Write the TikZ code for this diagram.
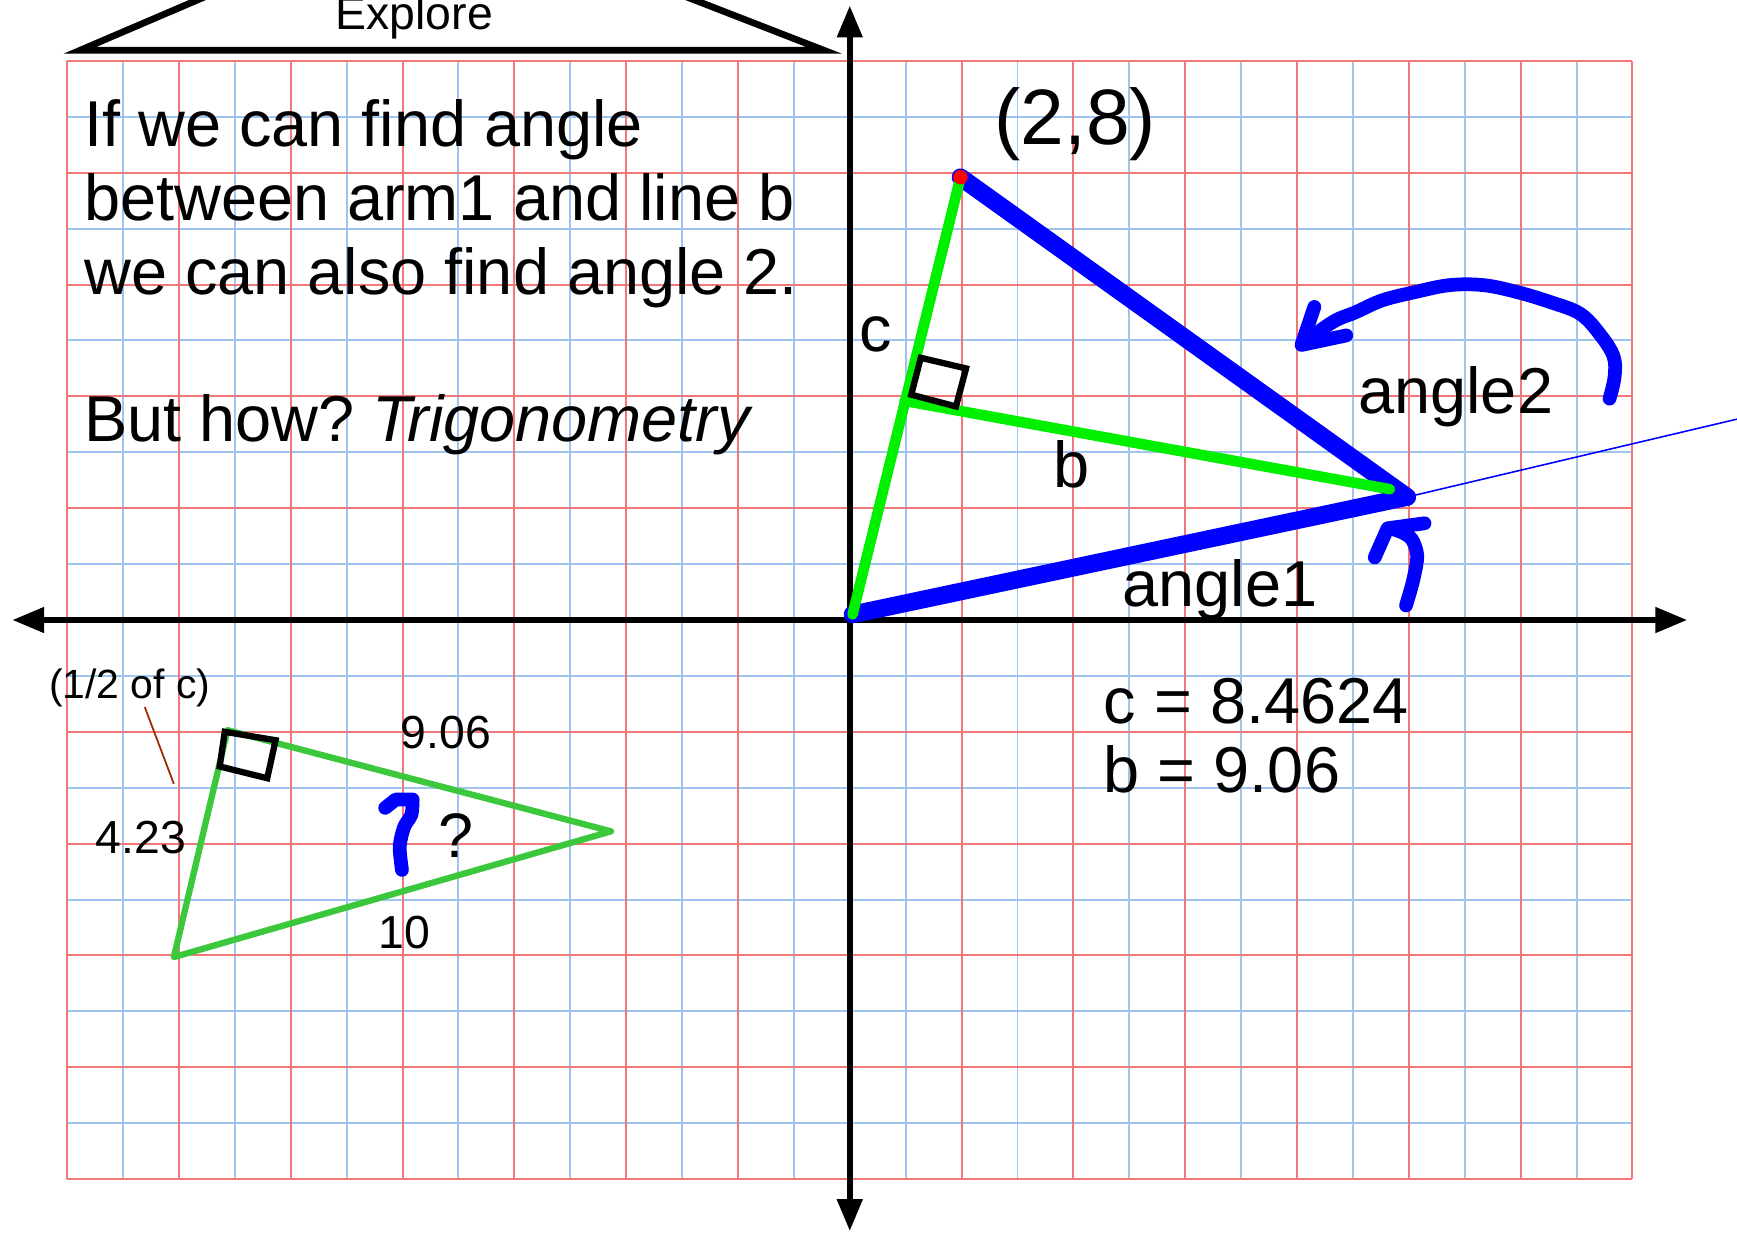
\documentclass[tikz,border=0pt]{standalone}
\usepackage{fontspec}
\setmainfont{Liberation Sans}
\frenchspacing
\usetikzlibrary{arrows.meta}

\definecolor{gridred}{RGB}{240,120,120}
\definecolor{gridblue}{RGB}{160,196,240}
\definecolor{brightgreen}{RGB}{0,240,0}
\definecolor{smallgreen}{RGB}{60,200,60}
\definecolor{pointerbrown}{RGB}{160,40,0}

\newcommand{\bigtxt}{\fontsize{33pt}{38pt}\selectfont}
\newcommand{\midtxt}{\fontsize{23.6pt}{28pt}\selectfont}

\begin{document}
\begin{tikzpicture}[
    minorline/.style={gridblue, line width=1pt},
    majorline/.style={gridred, line width=1pt},
    axisline/.style={line width=3pt,
      {Triangle[length=5.7mm,width=4.4mm]}-{Triangle[length=5.7mm,width=4.4mm]}},
    arm/.style={blue, line width=9pt, line cap=round},
    thinarm/.style={blue, line width=0.8pt},
    greenside/.style={brightgreen, line width=5.4pt, line cap=round},
    smallside/.style={smallgreen, line width=3.2pt, line join=round},
    rightmark/.style={black, line width=3.2pt},
    hand/.style={blue, line width=7pt, line cap=round, line join=round},
    pointer/.style={pointerbrown, line width=0.9pt},
    lbl/.style={inner sep=0pt, anchor=base},
  ]
    \useasboundingbox (-15.20,-10.95) rectangle (15.87,11.09);
    \clip (-15.20,-10.95) rectangle (15.87,11.09);

    % grid
    \foreach \x in {-13,-11,...,13} \draw[minorline] (\x,-10) -- (\x,10);
    \foreach \y in {-9,-7,...,9} \draw[minorline] (-14,\y) -- (14,\y);
    \foreach \x in {-14,-12,...,14} \draw[majorline] (\x,-10) -- (\x,10);
    \foreach \y in {-10,-8,...,10} \draw[majorline] (-14,\y) -- (14,\y);

    % roof with title
    \draw[line width=3.4pt] (-13.77,10.19) -- (-7.44,12.9) -- (-0.46,10.19) -- cycle;
    \node[lbl, font=\midtxt] (explore) at (-7.79,10.57) {Explore};

    % axes
    \draw[axisline] (-14.98,0) -- (14.98,0);
    \draw[axisline] (0,-10.93) -- (0,10.99);

    % question text
    \node[lbl, anchor=base west, font=\bigtxt] (line1) at (-13.70,8.47) {If we can find angle};
    \node[lbl, anchor=base west, font=\bigtxt] (line2) at (-13.70,7.15) {between arm1 and line b};
    \node[lbl, anchor=base west, font=\bigtxt] (line3) at (-13.70,5.83) {we can also find angle 2.};
    \node[lbl, anchor=base west, font=\bigtxt] (line4) at (-13.70,3.19) {But how? \textit{Trigonometry}};

    % big triangle
    \coordinate (O) at (0.05,0.1);
    \coordinate (P) at (1.98,7.92);
    \coordinate (Q) at (9.97,2.2);
    \coordinate (R) at (15.9,3.6);
    \coordinate (F) at (0.98,3.92);
    \coordinate (E) at (9.66,2.34);
    \draw[thinarm] (Q) -- (R);
    \draw[arm] (O) -- (Q);
    \draw[arm] (P) -- (Q);
    \draw[greenside] (O) -- (P);
    \draw[greenside] (F) -- (E);
    \draw[rightmark] (1.10,4.03) -- (1.27,4.69) -- (2.08,4.50) -- (1.90,3.82) -- cycle;
    \fill[red] (P) circle (0.13);

    % labels
    \node[lbl, anchor=base west, font=\fontsize{40pt}{46pt}\selectfont] (point) at (2.58,8.51) {(2,8)};
    \node[lbl, font=\bigtxt] (clbl) at (0.46,4.80) {c};
    \node[lbl, font=\bigtxt] (blbl) at (3.97,2.37) {b};
    \node[lbl, font=\bigtxt] (angle2) at (10.84,3.69) {angle2};
    \node[lbl, font=\bigtxt] (angle1) at (6.62,0.24) {angle1};
    \node[lbl, anchor=base west, font=\bigtxt] (cval) at (4.54,-1.85) {c = 8.4624};
    \node[lbl, anchor=base west, font=\bigtxt] (bval) at (4.54,-3.08) {b = 9.06};

    % hand drawn arrows
    \draw[hand] plot[smooth, tension=0.6] coordinates {(13.59,3.96) (13.68,4.35) (13.66,4.72)
      (13.41,5.12) (13.06,5.48) (12.52,5.69) (11.92,5.87) (11.33,5.99) (10.73,5.99)
      (10.13,5.87) (9.53,5.72) (9.06,5.51) (8.64,5.33) (8.10,4.94)};
    \draw[hand] (8.31,5.60) -- (8.08,4.92) -- (8.88,5.09);
    \draw[hand] plot[smooth] coordinates {(9.95,0.26) (10.08,0.72) (10.15,1.15)
      (10.05,1.45) (9.85,1.58) (9.66,1.64)};
    \draw[hand] (9.39,1.12) -- (9.62,1.64) -- (10.28,1.73);

    % small triangle
    \coordinate (sA) at (-11.13,-1.97);
    \coordinate (sB) at (-12.09,-6.03);
    \coordinate (sC) at (-4.27,-3.78);
    \draw[smallside] (sA) -- (sC) -- (sB) -- cycle;
    \draw[rightmark] (-11.18,-2.0) -- (-10.27,-2.15) -- (-10.42,-2.83) -- (-11.27,-2.62) -- cycle;
    \draw[hand] plot[smooth] coordinates {(-8.01,-4.47) (-8.05,-4.05) (-7.97,-3.70)
      (-7.84,-3.48) (-7.82,-3.22)};
    \draw[hand] (-8.31,-3.36) -- (-8.12,-3.21) -- (-7.82,-3.21);

    \node[lbl, font=\fontsize{20.8pt}{24pt}\selectfont] (halfc) at (-12.88,-1.40) {(1/2 of c)};
    \coordinate (ptr) at (-12.09,-2.93);
    \draw[pointer] ([xshift=0.27cm]halfc.south) -- (ptr);
    \node[lbl, font=\midtxt] (s906) at (-7.22,-2.30) {9.06};
    \node[lbl, font=\midtxt] (s423) at (-12.68,-4.18) {4.23};
    \node[lbl, font=\midtxt] (s10) at (-7.96,-5.88) {10};
    \node[lbl, font=\fontsize{32pt}{36pt}\selectfont] (qmark) at (-7.04,-4.24) {?};
\end{tikzpicture}
\end{document}
